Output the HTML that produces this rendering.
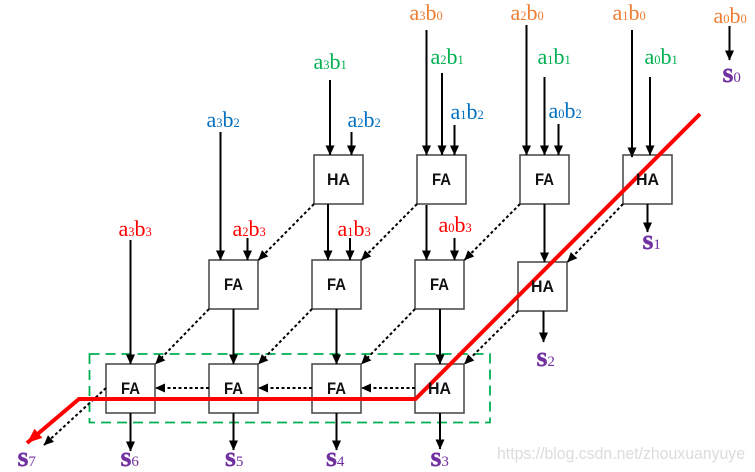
<!DOCTYPE html>
<html><head><meta charset="utf-8"><style>
html,body{margin:0;padding:0;background:#fff}
svg{display:block}
.l{font-family:"Liberation Serif",serif;font-size:22px}
.l tspan{font-size:12.5px}
.o{fill:#ed7d31}.g{fill:#00b050}.b{fill:#0070c0}.r{fill:#ff0000}
.s{font-family:"Liberation Serif",serif;font-size:28px;font-weight:bold;fill:#7030a0;stroke:#7030a0;stroke-width:.4px}
.s tspan{font-size:15px;font-weight:normal;stroke:none}
.t{font-family:"Liberation Sans",sans-serif;font-size:17px;font-weight:bold;fill:#111}
.v line{stroke:#000;stroke-width:2;marker-end:url(#h)}
.d line{stroke:#000;stroke-width:2;stroke-dasharray:3 2.5;marker-end:url(#h)}
.x rect{fill:#fff;stroke:#444;stroke-width:1.5}
</style></head><body>
<svg width="755" height="472" viewBox="0 0 755 472" xmlns="http://www.w3.org/2000/svg">
<defs>
<marker id="h" markerUnits="userSpaceOnUse" markerWidth="10" markerHeight="10" refX="9.500" refY="5" orient="auto"><path d="M0 .5L10 5L0 9.500Z" fill="#000"/></marker>
<marker id="rh" markerUnits="userSpaceOnUse" markerWidth="16" markerHeight="14" refX="15" refY="7" orient="auto"><path d="M0 1L15 7L0 13Z" fill="#f00"/></marker>
</defs>

<g class="x">
<rect x="314" y="155" width="49" height="49"/><rect x="417" y="155" width="49" height="49"/><rect x="520" y="155" width="49" height="49"/><rect x="623" y="155" width="49" height="49"/>
<rect x="209" y="260" width="49" height="49"/><rect x="312" y="260" width="49" height="49"/><rect x="415" y="260" width="49" height="49"/><rect x="518" y="262" width="49" height="49"/>
<rect x="106" y="364" width="49" height="49"/><rect x="209" y="364" width="49" height="49"/><rect x="312" y="364" width="49" height="49"/><rect x="415" y="364" width="49" height="49"/>
</g>

<rect x="89.500" y="354" width="400.500" height="68.500" fill="none" stroke="#00b050" stroke-width="1.800" stroke-dasharray="10 6"/>

<g class="v">
<line x1="130.500" y1="240" x2="130.500" y2="364"/>
<line x1="220.500" y1="132" x2="220.500" y2="260"/>
<line x1="247.500" y1="238" x2="247.500" y2="260"/>
<line x1="330" y1="80" x2="330" y2="155"/>
<line x1="351.500" y1="132" x2="351.500" y2="155"/>
<line x1="328" y1="204" x2="328" y2="260"/>
<line x1="350" y1="238" x2="350" y2="260"/>
<line x1="426.500" y1="30" x2="426.500" y2="155"/>
<line x1="442" y1="73" x2="442" y2="155"/>
<line x1="454.500" y1="125" x2="454.500" y2="155"/>
<line x1="426.500" y1="205" x2="426.500" y2="260"/>
<line x1="454.500" y1="238" x2="454.500" y2="260"/>
<line x1="526.500" y1="25" x2="526.500" y2="155"/>
<line x1="544.500" y1="77" x2="544.500" y2="155"/>
<line x1="558.500" y1="124" x2="558.500" y2="155"/>
<line x1="544.500" y1="204" x2="544.500" y2="262"/>
<line x1="632" y1="30" x2="632" y2="157"/>
<line x1="650" y1="77" x2="650" y2="155"/>
<line x1="729.500" y1="26" x2="729.500" y2="60"/>
<line x1="647.500" y1="204" x2="647.500" y2="232"/>
<line x1="543.500" y1="311" x2="543.500" y2="342"/>
<line x1="233.500" y1="309" x2="233.500" y2="364"/>
<line x1="336.500" y1="309" x2="336.500" y2="364"/>
<line x1="440" y1="309" x2="440" y2="364"/>
<line x1="130.500" y1="413" x2="130.500" y2="451"/>
<line x1="233.500" y1="413" x2="233.500" y2="450"/>
<line x1="336.500" y1="413" x2="336.500" y2="450"/>
<line x1="440" y1="413" x2="440" y2="449"/>
</g>

<g class="d">
<line x1="314" y1="204" x2="258.500" y2="260"/>
<line x1="417" y1="204" x2="361.500" y2="260"/>
<line x1="520" y1="204" x2="464.500" y2="260"/>
<line x1="623" y1="204" x2="567.500" y2="262"/>
<line x1="209" y1="309" x2="155.500" y2="364"/>
<line x1="312" y1="309" x2="258.500" y2="364"/>
<line x1="415" y1="309" x2="361.500" y2="364"/>
<line x1="518" y1="311" x2="464.500" y2="364"/>
<line x1="106" y1="388" x2="44" y2="445"/>
<line x1="209" y1="388" x2="155.500" y2="388"/>
<line x1="312" y1="388" x2="258.500" y2="388"/>
<line x1="415" y1="388" x2="361.500" y2="388"/>
</g>

<path d="M700 114L415.500 399H79L27 443" fill="none" stroke="#f00" stroke-width="4" marker-end="url(#rh)"/>

<g class="t">
<text x="327" y="185" textLength="23" lengthAdjust="spacingAndGlyphs">HA</text>
<text x="432" y="185" textLength="19" lengthAdjust="spacingAndGlyphs">FA</text>
<text x="535" y="185" textLength="19" lengthAdjust="spacingAndGlyphs">FA</text>
<text x="636" y="185" textLength="23" lengthAdjust="spacingAndGlyphs">HA</text>
<text x="224" y="290" textLength="19" lengthAdjust="spacingAndGlyphs">FA</text>
<text x="327" y="290" textLength="19" lengthAdjust="spacingAndGlyphs">FA</text>
<text x="430" y="290" textLength="19" lengthAdjust="spacingAndGlyphs">FA</text>
<text x="531" y="292" textLength="23" lengthAdjust="spacingAndGlyphs">HA</text>
<text x="121" y="394" textLength="19" lengthAdjust="spacingAndGlyphs">FA</text>
<text x="224" y="394" textLength="19" lengthAdjust="spacingAndGlyphs">FA</text>
<text x="327" y="394" textLength="19" lengthAdjust="spacingAndGlyphs">FA</text>
<text x="428" y="394" textLength="23" lengthAdjust="spacingAndGlyphs">HA</text>
</g>

<g class="l">
<text class="o" x="409.500" y="20">a<tspan>3</tspan>b<tspan>0</tspan></text>
<text class="o" x="510.500" y="20">a<tspan>2</tspan>b<tspan>0</tspan></text>
<text class="o" x="612.500" y="20">a<tspan>1</tspan>b<tspan>0</tspan></text>
<text class="o" x="713.500" y="23">a<tspan>0</tspan>b<tspan>0</tspan></text>
<text class="g" x="313.500" y="69">a<tspan>3</tspan>b<tspan>1</tspan></text>
<text class="g" x="430.500" y="64">a<tspan>2</tspan>b<tspan>1</tspan></text>
<text class="g" x="537.500" y="64">a<tspan>1</tspan>b<tspan>1</tspan></text>
<text class="g" x="644.500" y="64">a<tspan>0</tspan>b<tspan>1</tspan></text>
<text class="b" x="206.500" y="127">a<tspan>3</tspan>b<tspan>2</tspan></text>
<text class="b" x="347.500" y="127">a<tspan>2</tspan>b<tspan>2</tspan></text>
<text class="b" x="450.500" y="119">a<tspan>1</tspan>b<tspan>2</tspan></text>
<text class="b" x="548.500" y="118">a<tspan>0</tspan>b<tspan>2</tspan></text>
<text class="r" x="118.500" y="236">a<tspan>3</tspan>b<tspan>3</tspan></text>
<text class="r" x="232.500" y="236">a<tspan>2</tspan>b<tspan>3</tspan></text>
<text class="r" x="337.500" y="236">a<tspan>1</tspan>b<tspan>3</tspan></text>
<text class="r" x="438.500" y="232">a<tspan>0</tspan>b<tspan>3</tspan></text>
</g>

<g class="s">
<text x="722.500" y="82">s<tspan>0</tspan></text>
<text x="642.500" y="249">s<tspan>1</tspan></text>
<text x="536.500" y="366">s<tspan>2</tspan></text>
<text x="430.500" y="466">s<tspan>3</tspan></text>
<text x="326" y="466">s<tspan>4</tspan></text>
<text x="225" y="466">s<tspan>5</tspan></text>
<text x="120.500" y="466">s<tspan>6</tspan></text>
<text x="17.500" y="466">s<tspan>7</tspan></text>
</g>

<text x="497" y="459" font-family="'Liberation Sans',sans-serif" font-size="17" fill="#dcdcdc" textLength="248" lengthAdjust="spacingAndGlyphs">https://blog.csdn.net/zhouxuanyuye</text>
</svg>
</body></html>
